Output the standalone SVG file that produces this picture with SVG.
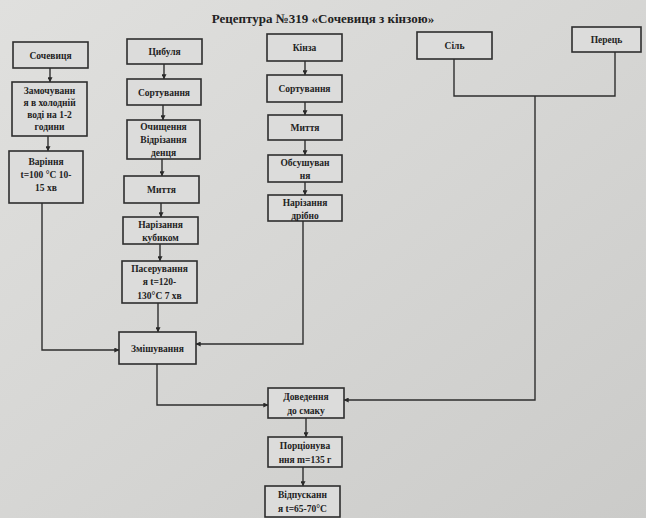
<svg xmlns="http://www.w3.org/2000/svg" width="646" height="518" viewBox="0 0 646 518">
  <defs>
    <linearGradient id="paper" x1="0" y1="0" x2="1" y2="1">
      <stop offset="0" stop-color="#e0e0de"/>
      <stop offset="0.5" stop-color="#d6d6d4"/>
      <stop offset="1" stop-color="#cbcbc9"/>
    </linearGradient>
    <marker id="arrow" viewBox="0 0 8 8" refX="7.5" refY="4" markerWidth="5" markerHeight="5" orient="auto" markerUnits="userSpaceOnUse">
      <path d="M0,0 L8,4 L0,8 z" fill="#2a2a2a"/>
    </marker>
    <style>
      .box rect { fill: #dcdcdb; stroke: #2e2e2e; stroke-width: 1.6; }
      .box text, .title { font-family: "Liberation Serif", "Times New Roman", serif; font-weight: bold; fill: #222; text-anchor: middle; }
      .box text { font-size: 9.5px; }
      .title { font-size: 13px; }
      .conn path { fill: none; stroke: #2e2e2e; stroke-width: 1.4; }
      .conn path.arr { marker-end: url(#arrow); }
    </style>
  </defs>

  <rect x="0" y="0" width="646" height="518" fill="url(#paper)"/>

  <text class="title" x="323" y="23">Рецептура №319 «Сочевиця з кінзою»</text>

  <!-- connectors -->
  <g id="connectors" class="conn">
    <!-- lentil branch -->
    <path class="arr" d="M50,68 V82"/>
    <path class="arr" d="M48,136 V151"/>
    <path class="arr" d="M42,203 V350 H119"/>
    <!-- onion branch -->
    <path class="arr" d="M164,64 V79"/>
    <path class="arr" d="M163,105 V120"/>
    <path class="arr" d="M162,159 V176"/>
    <path class="arr" d="M161,203 V217"/>
    <path class="arr" d="M160,244 V261"/>
    <path class="arr" d="M158,303 V332"/>
    <!-- mixing to seasoning -->
    <path class="arr" d="M157,364 V405 H268"/>
    <!-- coriander branch -->
    <path class="arr" d="M305,61 V75"/>
    <path class="arr" d="M305,102 V115"/>
    <path class="arr" d="M305,140 V155"/>
    <path class="arr" d="M305,182 V195"/>
    <path class="arr" d="M303,221 V344 H196"/>
    <!-- salt and pepper -->
    <path d="M454,59 V96 H615 V52"/>
    <path class="arr" d="M535,96 V400 H344"/>
    <!-- finishing -->
    <path class="arr" d="M306,418 V437"/>
    <path class="arr" d="M303,467 V486"/>
  </g>

  <!-- lentil column -->
  <g id="lentils" class="box">
    <rect x="13" y="42" width="75" height="26"/>
    <text x="50.5" y="58.5">Сочевиця</text>
  </g>
  <g id="soaking" class="box">
    <rect x="12" y="82" width="75" height="54"/>
    <text x="49.5" y="94">Замочуванн</text>
    <text x="49.5" y="106">я в холодній</text>
    <text x="49.5" y="118">воді на 1-2</text>
    <text x="49.5" y="130">години</text>
  </g>
  <g id="boiling" class="box">
    <rect x="9" y="151" width="74" height="52"/>
    <text x="46" y="165">Варіння</text>
    <text x="46" y="178">t=100 °C 10-</text>
    <text x="46" y="191">15 хв</text>
  </g>

  <!-- onion column -->
  <g id="onion" class="box">
    <rect x="127" y="39" width="75" height="25"/>
    <text x="164.5" y="54.5">Цибуля</text>
  </g>
  <g id="onion-sorting" class="box">
    <rect x="127" y="79" width="74" height="26"/>
    <text x="164" y="95.5">Сортування</text>
  </g>
  <g id="onion-peeling" class="box">
    <rect x="127" y="120" width="73" height="39"/>
    <text x="163.5" y="130">Очищення</text>
    <text x="163.5" y="143">Відрізання</text>
    <text x="163.5" y="156">денця</text>
  </g>
  <g id="onion-washing" class="box">
    <rect x="124" y="176" width="75" height="27"/>
    <text x="161.5" y="193">Миття</text>
  </g>
  <g id="onion-dicing" class="box">
    <rect x="123" y="217" width="75" height="27"/>
    <text x="160.5" y="228">Нарізання</text>
    <text x="160.5" y="241">кубиком</text>
  </g>
  <g id="sauteing" class="box">
    <rect x="122" y="261" width="75" height="42"/>
    <text x="159.5" y="272">Пасерування</text>
    <text x="159.5" y="285">я t=120-</text>
    <text x="159.5" y="299">130°C  7 хв</text>
  </g>
  <g id="mixing" class="box">
    <rect x="119" y="332" width="77" height="32"/>
    <text x="157.5" y="351.5">Змішування</text>
  </g>

  <!-- coriander column -->
  <g id="coriander" class="box">
    <rect x="267" y="34" width="75" height="27"/>
    <text x="304.5" y="50.5">Кінза</text>
  </g>
  <g id="coriander-sorting" class="box">
    <rect x="267" y="75" width="75" height="27"/>
    <text x="304.5" y="91.5">Сортування</text>
  </g>
  <g id="coriander-washing" class="box">
    <rect x="268" y="115" width="74" height="25"/>
    <text x="305" y="130.5">Миття</text>
  </g>
  <g id="coriander-drying" class="box">
    <rect x="268" y="155" width="74" height="27"/>
    <text x="305" y="166">Обсушуван</text>
    <text x="305" y="179">ня</text>
  </g>
  <g id="coriander-chopping" class="box">
    <rect x="268" y="195" width="74" height="26"/>
    <text x="305" y="206">Нарізання</text>
    <text x="305" y="219">дрібно</text>
  </g>

  <!-- seasonings -->
  <g id="salt" class="box">
    <rect x="417" y="32" width="75" height="27"/>
    <text x="454.5" y="48.5">Сіль</text>
  </g>
  <g id="pepper" class="box">
    <rect x="572" y="27" width="69" height="25"/>
    <text x="606.5" y="42.5">Перець</text>
  </g>

  <!-- finishing steps -->
  <g id="seasoning" class="box">
    <rect x="268" y="388" width="76" height="30"/>
    <text x="306" y="400">Доведення</text>
    <text x="306" y="414">до смаку</text>
  </g>
  <g id="portioning" class="box">
    <rect x="268" y="437" width="74" height="30"/>
    <text x="305" y="449">Порціонува</text>
    <text x="305" y="463">ння m=135 г</text>
  </g>
  <g id="serving" class="box">
    <rect x="265" y="486" width="75" height="31"/>
    <text x="302.5" y="498">Відпусканн</text>
    <text x="302.5" y="512">я t=65-70°C</text>
  </g>
</svg>
